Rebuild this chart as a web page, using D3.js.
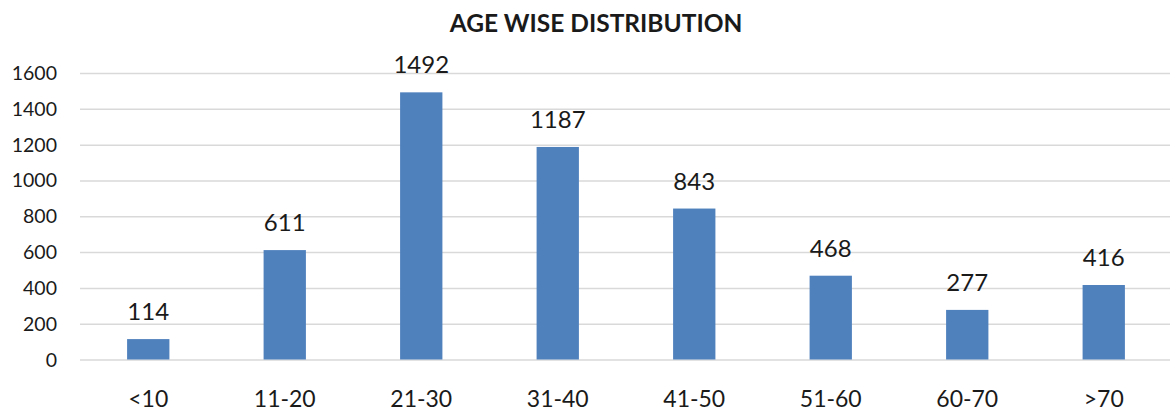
<!DOCTYPE html>
<html>
<head>
<meta charset="utf-8">
<script src="https://cdn.jsdelivr.net/npm/d3@7"></script>
<style>
  html, body { margin: 0; padding: 0; background: #fff; }
  svg { display: block; font-family: Lato, "Open Sans", sans-serif; }
  .grid line { stroke: #d9d9d9; stroke-width: 1.5px; }
  .grid .domain { display: none; }
</style>
</head>
<body>
<div id="chart"></div>
<script>
'use strict';

const ageGroups = ["<10", "11-20", "21-30", "31-40", "41-50", "51-60", "60-70", ">70"];
const counts = [114, 611, 1492, 1187, 843, 468, 277, 416];
const yTicks = [0, 200, 400, 600, 800, 1000, 1200, 1400, 1600];
const chartTitle = "AGE WISE DISTRIBUTION";

const width = 1170, height = 411;
const margin = {top: 73, right: -2, bottom: 51.5, left: 80};

const svg = d3.select("#chart")
    .append("svg")
    .attr("width", width)
    .attr("height", height);

const x = d3.scaleBand()
    .domain(ageGroups)
    .range([margin.left, width - margin.right])
    .paddingInner(0.69)
    .paddingOuter(0.345);

const y = d3.scaleLinear()
    .domain([0, 1600])
    .range([height - margin.bottom, margin.top]);

// gridlines
svg.append("g")
    .attr("class", "grid")
    .attr("transform", "translate(" + margin.left + ",0)")
    .call(d3.axisLeft(y).tickValues(yTicks).tickSize(-(width - margin.left)).tickFormat(""));

// y tick labels
svg.append("g")
    .selectAll("text")
    .data(yTicks)
    .join("text")
    .attr("x", 57)
    .attr("y", d => y(d))
    .attr("dy", "0.36em")
    .attr("text-anchor", "end")
    .attr("font-size", "19.5px")
    .attr("fill", "#1a1a1a")
    .text(d => d);

// bars
svg.append("g")
    .selectAll("rect")
    .data(counts)
    .join("rect")
    .attr("x", (d, i) => x(ageGroups[i]))
    .attr("y", d => y(d))
    .attr("width", x.bandwidth())
    .attr("height", d => y(0) - y(d))
    .attr("fill", "#4f81bd");

// value labels
svg.append("g")
    .selectAll("text")
    .data(counts)
    .join("text")
    .attr("x", (d, i) => x(ageGroups[i]) + x.bandwidth() / 2)
    .attr("y", d => y(d) - 19)
    .attr("text-anchor", "middle")
    .attr("font-size", "24px")
    .attr("fill", "#1a1a1a")
    .text(d => d);

// category labels
svg.append("g")
    .selectAll("text")
    .data(ageGroups)
    .join("text")
    .attr("x", d => x(d) + x.bandwidth() / 2)
    .attr("y", y(0) + 47)
    .attr("text-anchor", "middle")
    .attr("font-size", "23px")
    .attr("fill", "#1a1a1a")
    .text(d => d);

// title
svg.append("text")
    .attr("x", 596)
    .attr("y", 32)
    .attr("text-anchor", "middle")
    .attr("font-size", "24.5px")
    .attr("font-weight", "bold")
    .attr("fill", "#1a1a1a")
    .text(chartTitle);
</script>
</body>
</html>
